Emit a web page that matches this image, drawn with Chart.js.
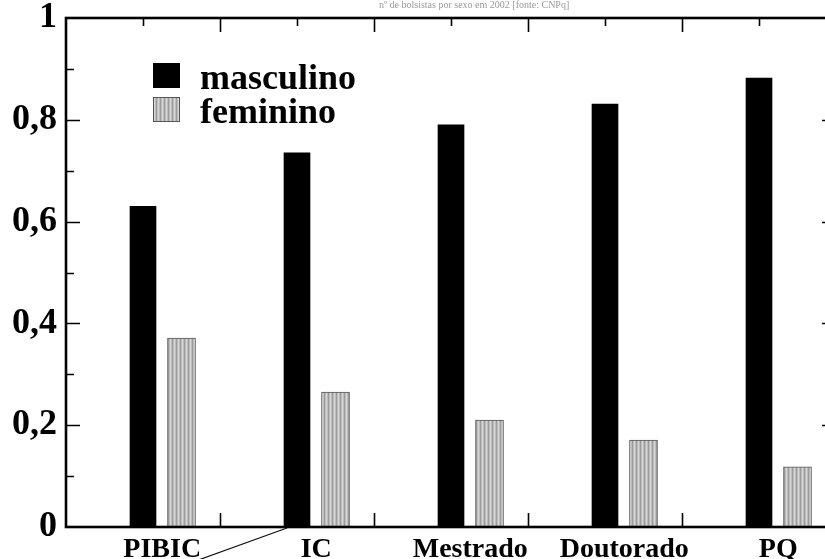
<!DOCTYPE html>
<html>
<head>
<meta charset="utf-8">
<script src="https://cdn.jsdelivr.net/npm/chart.js@4"></script>
<style>
  html, body { margin: 0; padding: 0; background: #fff; overflow: hidden; }
  #wrap { width: 825px; height: 559px; overflow: hidden; }
</style>
</head>
<body>
<div id="wrap"><canvas id="chart" width="845" height="559"></canvas></div>
<script>
// Data
const categories = ['PIBIC', 'IC', 'Mestrado', 'Doutorado', 'PQ'];
const masculino = [0.63, 0.735, 0.79, 0.831, 0.882];
const feminino = [0.371, 0.265, 0.21, 0.171, 0.118];
const yTicks = [0, 0.2, 0.4, 0.6, 0.8, 1];
const yTickLabels = ['0', '0,2', '0,4', '0,6', '0,8', '1'];
const topNote = 'nº de bolsistas por sexo em 2002 [fonte: CNPq]';

const FONT = "'Liberation Serif', 'DejaVu Serif', serif";

// gray stippled fill for feminino
function grayPattern() {
  const c = document.createElement('canvas');
  c.width = 4; c.height = 2;
  const g = c.getContext('2d');
  g.fillStyle = '#bdbdbd'; g.fillRect(0, 0, 4, 2);
  g.fillStyle = '#9c9c9c'; g.fillRect(0, 0, 1, 2);
  g.fillStyle = '#d6d6d6'; g.fillRect(2, 0, 1, 2);
  return g.createPattern(c, 'repeat');
}

// category i -> position on the numeric x axis
const mascX = i => 2 * i + 1;
const femX = i => 2 * i + 1.5;
const labelX = i => 2 * i + 1.25;

// frame, inward ticks, legend, pointer line, faint note
const framePlugin = {
  id: 'frame',
  afterDatasetsDraw(chart) {
    const { ctx, chartArea: a, scales: { x, y } } = chart;
    ctx.save();
    ctx.strokeStyle = '#000';
    ctx.lineWidth = 1.6;
    ctx.beginPath();
    for (let v = 1; v < 10; v++) {
      const px = Math.round(x.getPixelForValue(v)) + 0.5;
      const len = v % 2 === 0 ? 14 : 8;
      ctx.moveTo(px, a.bottom); ctx.lineTo(px, a.bottom - len);
      ctx.moveTo(px, a.top); ctx.lineTo(px, a.top + len);
    }
    for (let k = 1; k < 10; k++) {
      const py = Math.round(y.getPixelForValue(k / 10)) + 0.5;
      const len = k % 2 === 0 ? 14 : 8;
      ctx.moveTo(a.left, py); ctx.lineTo(a.left + len, py);
      ctx.moveTo(a.right, py); ctx.lineTo(a.right - len, py);
    }
    ctx.stroke();
    ctx.lineWidth = 2.6;
    ctx.strokeRect(a.left, a.top, a.right - a.left, a.bottom - a.top);

    // legend
    const ds = chart.data.datasets;
    ctx.font = 'bold 36px ' + FONT;
    ctx.textBaseline = 'alphabetic';
    ds.forEach((d, i) => {
      const top = 63 + i * 34;
      ctx.fillStyle = d.backgroundColor;
      ctx.fillRect(153, top, 27, 25);
      if (d.borderWidth) {
        ctx.strokeStyle = d.borderColor; ctx.lineWidth = 1;
        ctx.strokeRect(153.5, top + 0.5, 26, 24);
      }
      ctx.fillStyle = '#000';
      ctx.fillText(d.label, 200, top + 26);
    });

    // pointer line from below the IC bar
    const x0 = x.getPixelForValue(2.87), y0 = y.getPixelForValue(0);
    ctx.strokeStyle = '#111'; ctx.lineWidth = 1.2;
    ctx.beginPath();
    ctx.moveTo(x0, y0 + 1);
    ctx.lineTo(x0 - 84 * 1.5, y0 + 31 * 1.5);
    ctx.stroke();

    // faint note above the frame
    ctx.font = '10px ' + FONT;
    ctx.fillStyle = '#9a9a9a';
    ctx.textAlign = 'center';
    ctx.fillText(topNote, (x.getPixelForValue(4.2) + x.getPixelForValue(6.4)) / 2, 8);
    ctx.restore();
  }
};

const ctx = document.getElementById('chart').getContext('2d');
new Chart(ctx, {
  type: 'bar',
  data: {
    datasets: [
      {
        label: 'masculino',
        data: masculino.map((v, i) => ({ x: mascX(i), y: v })),
        backgroundColor: '#000',
        borderWidth: 0,
        barThickness: 26,
        grouped: false
      },
      {
        label: 'feminino',
        data: feminino.map((v, i) => ({ x: femX(i), y: v })),
        backgroundColor: grayPattern(),
        borderColor: '#555',
        borderWidth: 1,
        barThickness: 28,
        grouped: false
      }
    ]
  },
  options: {
    responsive: false,
    animation: false,
    layout: { padding: { top: 18, right: 9, left: 0, bottom: 0 } },
    plugins: { legend: { display: false }, tooltip: { enabled: false } },
    scales: {
      x: {
        type: 'linear',
        min: 0,
        max: 10,
        offset: false,
        grid: { display: false, drawTicks: false, offset: false },
        border: { display: false },
        afterFit: s => { s.height = 32; s.paddingLeft = 0; s.paddingRight = 0; },
        afterBuildTicks: s => { s.ticks = categories.map((c, i) => ({ value: labelX(i) })); },
        ticks: {
          autoSkip: false,
          maxRotation: 0,
          padding: 6,
          color: '#000',
          font: { family: FONT, size: 28, weight: 'bold' },
          callback: (v, i) => categories[i]
        }
      },
      y: {
        min: 0,
        max: 1,
        grid: { display: false, drawTicks: false },
        border: { display: false },
        afterFit: s => { s.width = 66; s.paddingTop = 0; s.paddingBottom = 0; },
        afterBuildTicks: s => { s.ticks = yTicks.map(v => ({ value: v })); },
        ticks: {
          padding: 9,
          color: '#000',
          font: { family: FONT, size: 36, weight: 'bold' },
          callback: (v, i) => yTickLabels[i]
        }
      }
    }
  },
  plugins: [framePlugin]
});
</script>
</body>
</html>
